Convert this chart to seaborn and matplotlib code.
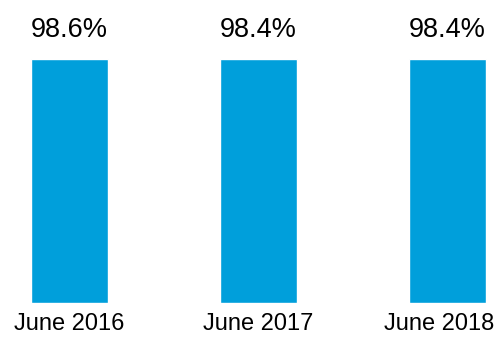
import matplotlib
matplotlib.use("Agg")
import matplotlib.pyplot as plt
import matplotlib.transforms as mtransforms
import seaborn as sns
import pandas as pd

categories = ["June 2016", "June 2017", "June 2018"]
values = [98.6, 98.4, 98.4]
labels = ["98.6%", "98.4%", "98.4%"]

sns.set_style("white")
plt.rcParams['font.family'] = ['Liberation Sans', 'DejaVu Sans']

W, H = 497, 338
fig = plt.figure(figsize=(W / 100, H / 100), dpi=100)
bottom_px = 303
ax = fig.add_axes([0, (H - bottom_px) / H, 1, bottom_px / H])

df = pd.DataFrame({"cat": categories, "val": values})
sns.barplot(data=df, x="cat", y="val", order=categories, color="#009FDB",
            saturation=1, width=77 / 189, ax=ax)

unit = 189.0
x0 = 69.5
ax.set_xlim(-x0 / unit, (W - x0) / unit)
px_per = 244 / 98.6
ax.set_ylim(0, bottom_px / px_per)

for i, (v, lab) in enumerate(zip(values, labels)):
    ax.text(i, (bottom_px - 37) / px_per, lab, ha="center", va="baseline",
            fontsize=19.5, color="#000000")

ax.set_xlabel("")
ax.set_ylabel("")
ax.set_yticks([])
ax.tick_params(axis="x", length=0, pad=7, labelsize=17, labelcolor="#000000")
for s in ax.spines.values():
    s.set_visible(False)

# last label is nudged left to fit inside the figure
fig.canvas.draw()
last = ax.get_xticklabels()[-1]
last.set_transform(last.get_transform() + mtransforms.ScaledTranslation(-8 / 100, 0, fig.dpi_scale_trans))

fig.savefig("out.png", dpi=100)
